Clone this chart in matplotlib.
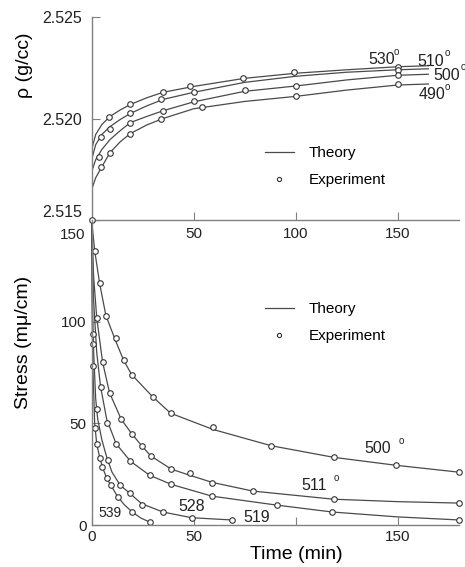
import numpy as np
import matplotlib.pyplot as plt

plt.rcParams['font.family'] = ['Liberation Sans', 'DejaVu Sans']

# ---- density vs time (top panel) ----
t_rho = [0, 2, 5, 9, 14, 19, 27, 35, 50, 75, 100, 125, 150, 165]
rho_530 = [2.51847, 2.51921, 2.51970, 2.52010, 2.52042, 2.52069, 2.52102, 2.52129,
           2.52158, 2.52198, 2.52223, 2.52240, 2.52255, 2.52260]
rho_510 = [2.51797, 2.51871, 2.51921, 2.51960, 2.51995, 2.52025, 2.52062, 2.52094,
           2.52129, 2.52178, 2.52208, 2.52228, 2.52240, 2.52245]
rho_500 = [2.51738, 2.51797, 2.51847, 2.51896, 2.51940, 2.51980, 2.52010, 2.52038,
           2.52082, 2.52134, 2.52160, 2.52190, 2.52213, 2.52218]
rho_490 = [2.51649, 2.51708, 2.51762, 2.51832, 2.51885, 2.51926, 2.51968, 2.52000,
           2.52048, 2.52084, 2.52109, 2.52140, 2.52165, 2.52170]

# measured points
t_e530 = [8.6, 19, 35, 48, 74, 99, 150]
e530 = [2.52005, 2.52069, 2.52129, 2.52158, 2.52198, 2.52228, 2.52252]
t_e510 = [4.8, 9, 19, 34, 50, 150]
e510 = [2.51911, 2.51950, 2.52025, 2.52094, 2.52129, 2.52240]
t_e500 = [3.7, 19, 35, 50, 75, 100, 150]
e500 = [2.51812, 2.51980, 2.52035, 2.52084, 2.52139, 2.52158, 2.52213]
t_e490 = [4.7, 9, 19, 34, 54, 100, 150]
e490 = [2.51762, 2.51832, 2.51926, 2.52000, 2.52059, 2.52109, 2.52168]

# ---- stress relaxation (bottom panel) ----
t_s500 = [0, 1.5, 3.9, 7, 12, 15.7, 19.6, 30, 38.7, 59.5, 88, 118.6, 149, 180]
s500 = [150, 135, 119, 103, 90, 81, 74, 63, 55, 47, 39, 33.3, 29.4, 26]
t_s511 = [0, 1, 2.5, 5.4, 8.8, 14.5, 19.6, 24.5, 29, 39, 48, 59, 79, 118.6, 150, 180]
s511 = [150, 122, 102, 80, 65, 52, 45, 39, 34, 27.5, 24.5, 21, 16.7, 12.7, 11.5, 10.8]
t_s519 = [0, 1, 2.5, 4.4, 7.4, 12, 19, 28.4, 39, 59, 90.7, 118, 150, 180]
s519 = [150, 110, 85, 68, 52, 40, 31.4, 24.5, 20, 14.2, 9.8, 6.4, 4, 2.5]
t_s528 = [0, 0.5, 1, 2, 3, 5, 7.5, 10, 14, 18.6, 24.5, 35, 49, 68.6]
s528 = [150, 105, 85, 62, 52, 42, 33, 26, 19.6, 15.7, 10.5, 6.4, 3.6, 2.5]
t_s539 = [0, 0.3, 0.7, 1.5, 2.5, 4, 5.5, 7.4, 9.8, 12.7, 16, 20, 24, 28.4]
s539 = [150, 100, 75, 50, 40, 33, 28, 23, 19, 14, 10, 6.4, 3.5, 1.5]

t_m500 = [0, 1.5, 3.9, 7, 12, 15.7, 19.6, 30, 38.7, 59.5, 88, 118.6, 149, 180]
m500 = [150, 135, 119, 103, 92, 81, 74, 63, 55, 48, 39, 33.3, 29.4, 26]
t_m511 = [2.5, 5.4, 8.8, 14.5, 19.6, 24.5, 29, 39, 48, 59, 79, 118.6, 180]
m511 = [102, 80, 65, 52, 45, 39, 34, 27.5, 25.5, 20.6, 16.7, 12.7, 10.8]
t_m519 = [0.5, 4.4, 7.4, 12, 19, 28.4, 39, 59, 90.7, 118, 180]
m519 = [94, 68, 50, 39.7, 31.4, 24.5, 20, 14.2, 9.8, 6.4, 2.5]
t_m528 = [0.8, 2.5, 7.8, 14, 18.6, 24.5, 35, 49, 68.6]
m528 = [89, 57, 32, 19.6, 15.7, 9.8, 6.4, 3.4, 2.5]
t_m539 = [0.5, 1.5, 2.5, 4, 5, 7.4, 9.3, 12.7, 20, 28.4]
m539 = [78, 47.5, 40, 33, 28.4, 23, 19.6, 13.7, 6.4, 1.5]

line_c = '#4a4a4a'
mark_kw = dict(ls='none', marker='o', ms=4, mfc='white', mec='#333333', mew=0.8, clip_on=False)

fig = plt.figure(figsize=(4.65, 5.67), dpi=100)
ax1 = fig.add_axes([0.197, 0.612, 0.79, 0.358])
ax2 = fig.add_axes([0.197, 0.074, 0.79, 0.538])
ax2.set_facecolor('none')   # keep the top panel's tick labels visible

# top panel
for t, r in [(t_rho, rho_530), (t_rho, rho_510), (t_rho, rho_500), (t_rho, rho_490)]:
    ax1.plot(t, r, color=line_c, lw=0.9)
for t, r in [(t_e530, e530), (t_e510, e510), (t_e500, e500), (t_e490, e490)]:
    ax1.plot(t, r, **mark_kw)

# bottom panel
for t, s in [(t_s500, s500), (t_s511, s511), (t_s519, s519), (t_s528, s528), (t_s539, s539)]:
    ax2.plot(t, s, color=line_c, lw=0.9, clip_on=False)
for t, s in [(t_m500, m500), (t_m511, m511), (t_m519, m519), (t_m528, m528), (t_m539, m539)]:
    ax2.plot(t, s, **mark_kw)

for ax in (ax1, ax2):
    ax.set_xlim(0, 180)
    for sp in ('top', 'right'):
        ax.spines[sp].set_visible(False)
    for sp in ('left', 'bottom'):
        ax.spines[sp].set_color('#808080')
        ax.spines[sp].set_linewidth(1.0)
    ax.tick_params(direction='in', length=6, width=0.8, color='#808080',
                   labelsize=11, labelcolor='#222222')
ax1.tick_params(axis='y', pad=7, labelsize=11.5)
ax1.tick_params(axis='x', pad=5)

ax1.set_ylim(2.515, 2.525)
ax1.set_xticks([50, 100, 150])
ax1.set_yticks([2.515, 2.520, 2.525])
ylab1 = ax1.set_yticklabels(['2.515', '2.520', '2.525'])
ylab1[0].set_verticalalignment('bottom')

ax2.set_ylim(0, 150)
ax2.set_xticks([0, 50, 100, 150])
ax2.set_xticklabels(['0', '50', '', '150'])
ax2.set_yticks([0, 50, 100, 150])
ax2.set_yticklabels(['0', '50', '100', ''])
# the 150 label sits below the shared edge
ax2.annotate('150', xy=(0, 150), xycoords=('axes fraction', 'data'), xytext=(-4.5, -11),
             textcoords='offset points', ha='right', va='center', fontsize=11, color='#222222')

ax1.set_ylabel(u'\u03c1 (g/cc)', fontsize=14)
ax1.yaxis.set_label_coords(-0.16, 0.764)
ax2.set_ylabel(u'Stress (m\u03bc/cm)', fontsize=14)
ax2.yaxis.set_label_coords(-0.162, 0.6)
ax2.set_xlabel('Time (min)', fontsize=14)
ax2.xaxis.set_label_coords(0.558, -0.07)

# legends
theory_h = plt.Line2D([], [], color=line_c, lw=0.9)
exp_h = plt.Line2D([], [], ls='none', marker='o', ms=3, mfc='white', mec='#333333', mew=0.8)
for ax, y0 in [(ax1, 0.40), (ax2, 0.755)]:
    ax.legend([theory_h, exp_h], ['Theory', 'Experiment'], loc='upper left',
              bbox_to_anchor=(0.45, y0), frameon=False, fontsize=11,
              handlelength=1.9, handletextpad=1.0, labelspacing=0.85, borderpad=0)

# temperature labels
def temp_label(ax, x, y, txt, size=11.5, deg=(10, 6)):
    ax.text(x, y, txt, ha='center', va='center', fontsize=size, color='#222222')
    if deg is not None:
        ax.annotate('o', (x, y), xytext=deg, textcoords='offset points',
                    fontsize=7, ha='center', va='center', color='#222222')

temp_label(ax1, 142, 2.52292, '530', deg=(11, 5))
temp_label(ax1, 166, 2.52282, '510', deg=(12, 6))
temp_label(ax1, 174, 2.52213, '500', deg=(12, 6))
temp_label(ax1, 167, 2.52119, '490', deg=(11, 5))

temp_label(ax2, 140, 37.7, '500', deg=(17, 5))
temp_label(ax2, 109, 19.6, '511', deg=(16, 5))
temp_label(ax2, 81, 3.9, '519', deg=None)
temp_label(ax2, 49, 9.3, '528', deg=None)
temp_label(ax2, 9, 5.9, '539', size=10, deg=None)

fig.savefig('out.png', dpi=100)
